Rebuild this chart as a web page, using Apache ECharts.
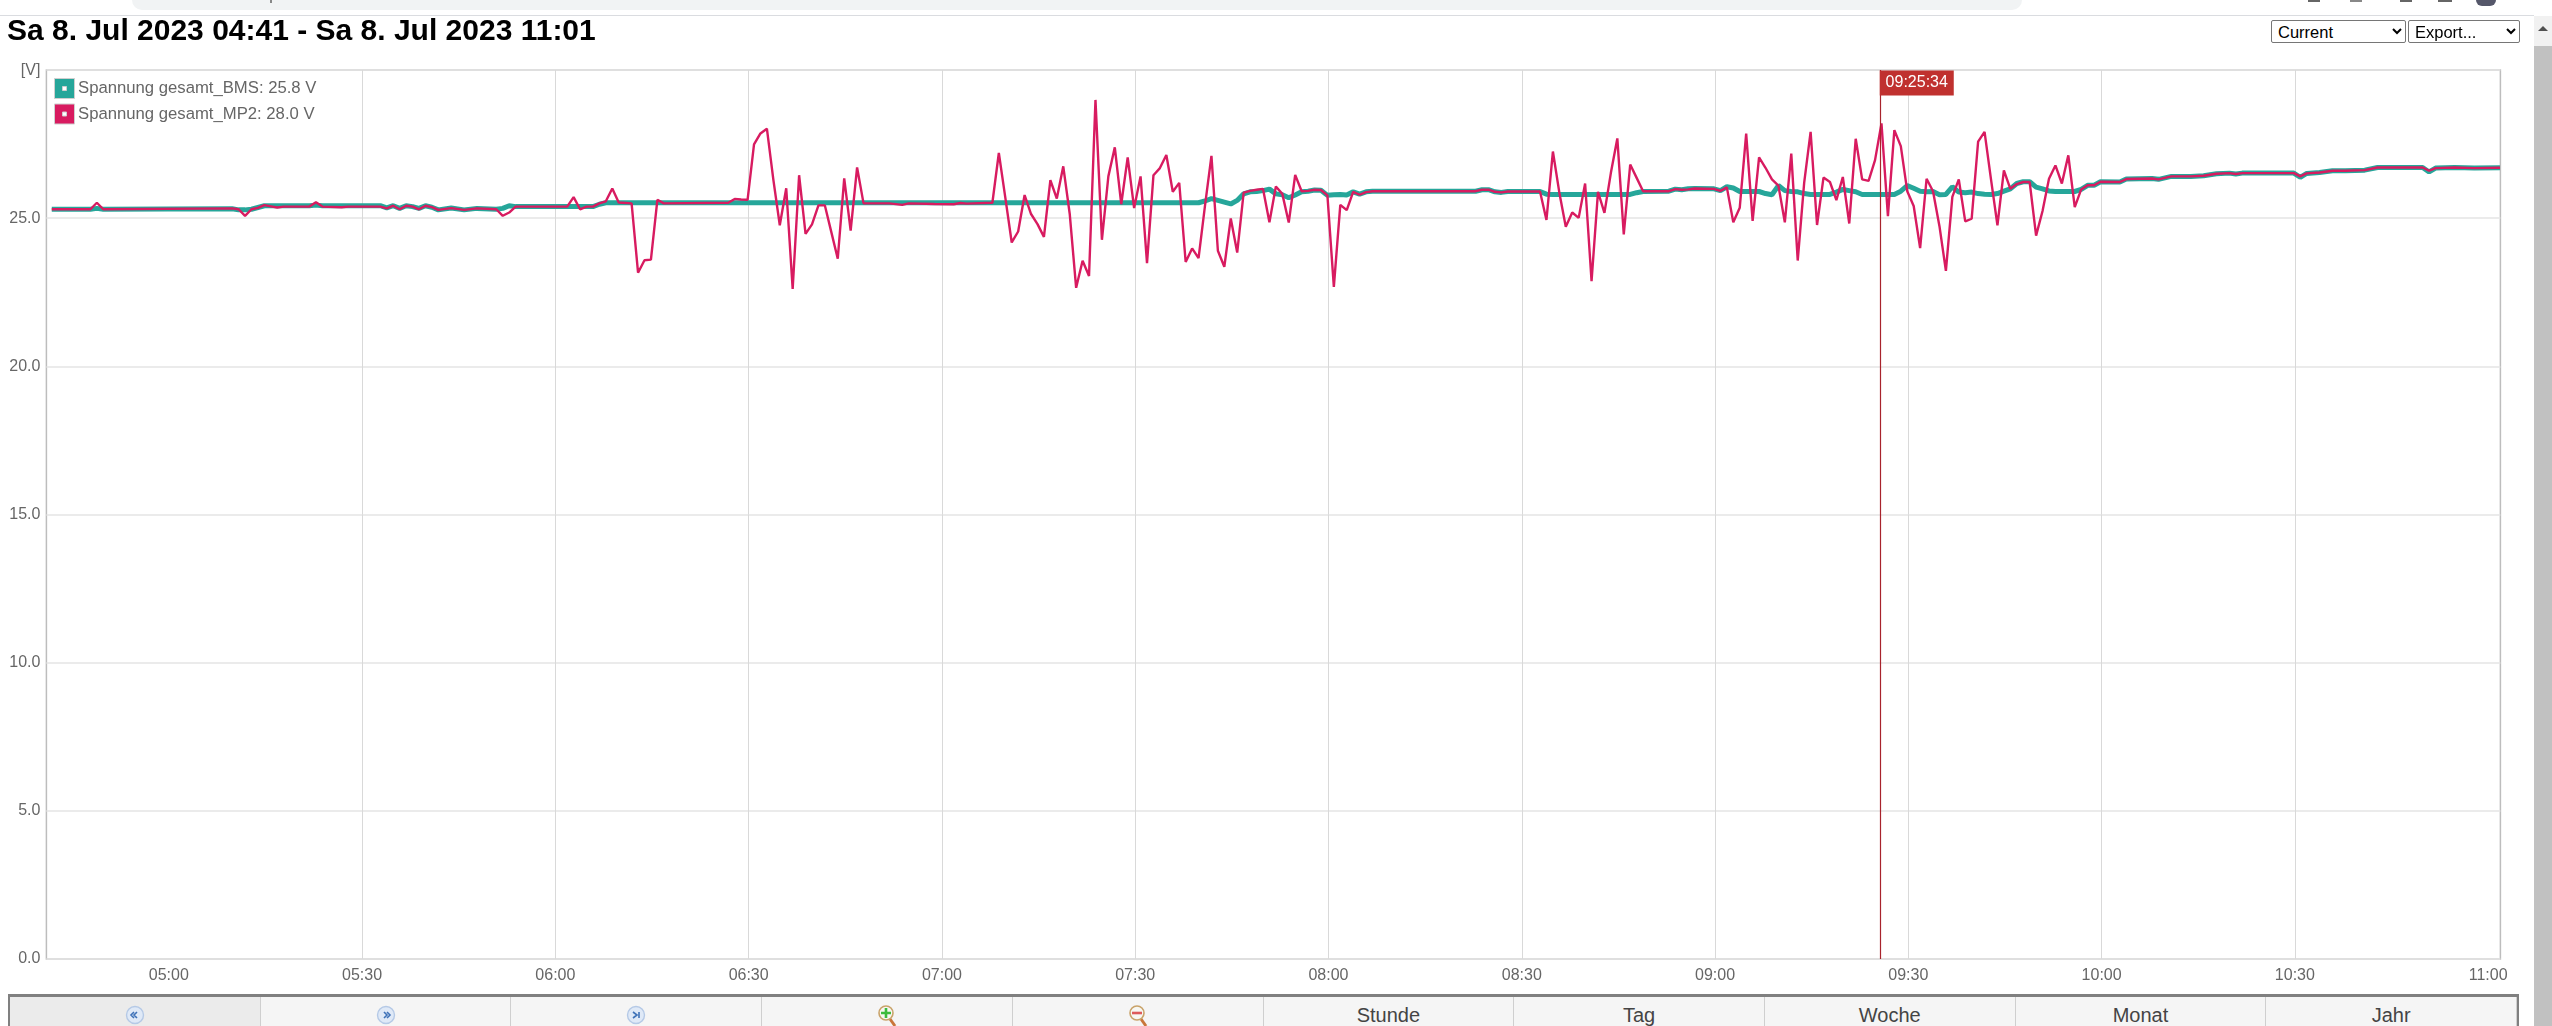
<!DOCTYPE html>
<html><head><meta charset="utf-8">
<script src="https://cdn.jsdelivr.net/npm/echarts@6/dist/echarts.min.js"></script>
<style>
html,body{margin:0;padding:0;width:2552px;height:1026px;overflow:hidden;background:#fff;font-family:"Liberation Sans",Arial,sans-serif}
#chart{position:absolute;left:0;top:0;width:2552px;height:1026px}
.abs{position:absolute}
select{position:absolute;top:20px;height:23px;font-size:16.5px;font-family:"Liberation Sans",Arial,sans-serif;background:#fff;color:#000;border:1px solid #767676;border-radius:2px;padding:0 0 0 2px;box-sizing:border-box}
#bar{position:absolute;left:8px;top:994px;width:2511px;height:40px;background:#f5f5f5;border-top:3px solid #808080;box-sizing:border-box;border-left:2px solid #808080;border-right:2px solid #808080;display:flex}
#bar div{flex:1;border-right:1px solid #cfcfcf;text-align:center;font-size:20px;color:#444;line-height:36px;padding-bottom:0;box-sizing:border-box}
#bar div:first-child{background:#ebebeb}
#bar svg{margin-top:7px}
</style></head><body>
<div id="chart"></div>
<div class="abs" style="left:0;top:15px;width:2534px;height:1px;background:#dadce0"></div>
<div class="abs" style="left:132px;top:0;width:1890px;height:10px;background:#f1f3f4;border-radius:0 0 14px 14px"></div>
<div class="abs" style="left:270px;top:0;width:2px;height:3px;background:#888"></div>
<div class="abs" style="left:2308px;top:0;width:12px;height:2px;background:#666"></div>
<div class="abs" style="left:2350px;top:0;width:12px;height:2px;background:#888"></div>
<div class="abs" style="left:2400px;top:0;width:12px;height:2px;background:#666"></div>
<div class="abs" style="left:2438px;top:0;width:14px;height:2px;background:#666"></div>
<div class="abs" style="left:2476px;top:-6px;width:20px;height:12px;background:#55576a;border-radius:10px"></div>
<div class="abs" style="left:2534px;top:16px;width:18px;height:1010px;background:#f1f1f1"></div>
<div class="abs" style="left:2534px;top:46px;width:18px;height:980px;background:#c1c1c1"></div>
<svg class="abs" style="left:2537px;top:24px" width="12" height="9"><path d="M6 2L11 7H1Z" fill="#505050"/></svg>
<select style="left:2271px;width:135px"><option>Current</option></select>
<select style="left:2408px;width:112px"><option>Export...</option></select>
<div id="bar"></div>
<script>
var titleText = 'Sa 8. Jul 2023 04:41 - Sa 8. Jul 2023 11:01';
var axisName = '[V]';
var cursorTime = '09:25:34';
var bmsName = 'Spannung gesamt_BMS';
var mp2Name = 'Spannung gesamt_MP2';
var bmsCurrent = '25.8';
var mp2Current = '28.0';
var buttonLabels = ['', '', '', '', '', 'Stunde', 'Tag', 'Woche', 'Monat', 'Jahr'];
var tickLabels = ['05:00','05:30','06:00','06:30','07:00','07:30','08:00','08:30','09:00','09:30','10:00','10:30','11:00'];

var mp2Times = [
'04:42','04:48','04:49','04:50','05:10','05:11','05:12','05:13','05:14','05:15','05:16','05:17','05:18','05:22','05:23','05:24','05:27','05:28','05:33','05:34','05:35','05:36','05:37','05:38','05:39','05:40','05:41','05:42','05:44','05:46','05:48','05:51','05:52','05:53','05:54','06:02','06:03','06:04','06:05','06:06','06:07','06:08','06:09','06:10','06:12','06:13','06:14','06:15','06:16','06:17','06:27','06:28','06:29','06:30','06:31','06:32','06:33','06:34','06:35','06:36','06:37','06:38','06:39','06:40','06:41','06:42','06:43','06:44','06:45','06:46','06:47','06:48','06:52','06:54','06:55','06:59','07:02','07:03','07:04','07:08','07:09','07:10','07:11','07:12','07:13','07:14','07:15','07:16','07:17','07:18','07:19','07:20','07:21','07:22','07:23','07:24','07:25','07:26','07:27','07:28','07:29','07:30','07:31','07:32','07:33','07:34','07:35','07:36','07:37','07:38','07:39','07:40','07:41','07:42','07:43','07:44','07:45','07:46','07:47','07:48','07:49','07:50','07:51','07:52','07:53','07:54','07:55','07:56','07:57','07:58','07:59','08:00','08:01','08:02','08:03','08:04','08:05','08:06','08:07','08:23','08:24','08:25','08:26','08:27','08:28','08:33','08:34','08:35','08:36','08:37','08:38','08:39','08:40','08:41','08:42','08:43','08:44','08:45','08:46','08:47','08:48','08:49','08:53','08:54','08:55','08:56','08:57','09:00','09:01','09:02','09:03','09:04','09:05','09:06','09:07','09:08','09:09','09:10','09:11','09:12','09:13','09:14','09:15','09:16','09:17','09:18','09:19','09:20','09:21','09:22','09:23','09:24','09:25','09:26','09:27','09:28','09:29','09:30','09:31','09:32','09:33','09:34','09:35','09:36','09:37','09:38','09:39','09:40','09:41','09:42','09:43','09:44','09:45','09:46','09:47','09:48','09:49','09:50','09:51','09:52','09:53','09:54','09:55','09:56','09:57','09:58','09:59','10:00','10:03','10:04','10:08','10:09','10:11','10:14','10:16','10:18','10:20','10:21','10:22','10:30','10:31','10:32','10:34','10:36','10:38','10:41','10:43','10:50','10:51','10:52','10:55','10:58','11:02'];
var mp2Values = [
25.3,25.3,25.52,25.3,25.33,25.3,25.08,25.3,25.35,25.44,25.4,25.36,25.39,25.39,25.54,25.39,25.37,25.39,25.39,25.33,25.42,25.3,25.42,25.39,25.3,25.42,25.37,25.28,25.34,25.28,25.33,25.3,25.08,25.19,25.39,25.39,25.71,25.3,25.39,25.39,25.5,25.57,26.0,25.53,25.5,23.16,23.58,23.6,25.62,25.5,25.52,25.65,25.63,25.62,27.49,27.86,28.02,26.3,24.76,26.01,22.61,26.45,24.47,24.79,25.43,25.43,24.53,23.63,26.34,24.58,26.71,25.5,25.5,25.45,25.5,25.48,25.47,25.51,25.49,25.52,27.2,25.7,24.18,24.55,25.78,25.14,24.8,24.37,26.28,25.66,26.75,25.15,22.65,23.56,23.05,28.99,24.27,26.41,27.39,25.47,27.05,25.34,26.41,23.48,26.45,26.69,27.13,25.89,26.19,23.52,23.98,23.65,25.42,27.1,23.9,23.36,24.99,23.84,25.86,25.92,25.96,25.99,24.86,26.07,25.82,24.85,26.46,25.91,25.92,25.96,25.95,25.77,22.68,25.45,25.27,25.89,25.79,25.88,25.91,25.91,25.96,25.96,25.89,25.87,25.9,25.9,24.94,27.25,25.86,24.71,25.19,25.01,26.17,22.87,25.89,25.18,26.53,27.69,24.45,26.81,26.36,25.91,25.91,25.98,25.96,25.97,26.0,25.99,25.92,26.04,24.86,25.35,27.85,24.91,27.05,26.7,26.31,26.1,24.86,27.18,23.57,26.19,27.91,24.77,26.37,26.22,25.61,26.39,24.82,27.68,26.31,26.26,26.96,28.2,25.07,27.97,27.43,25.91,25.41,23.99,26.33,25.91,24.73,23.22,25.72,26.31,24.89,24.98,27.58,27.91,26.31,24.76,26.61,25.99,26.15,26.22,26.22,24.41,25.24,26.33,26.78,26.17,27.12,25.37,25.97,26.11,26.11,26.23,26.22,26.32,26.34,26.31,26.41,26.41,26.43,26.5,26.52,26.49,26.52,26.52,26.41,26.51,26.54,26.6,26.6,26.62,26.71,26.71,26.6,26.69,26.71,26.69,26.7];

var bmsTimes = [
'04:42','04:48','04:49','04:50','05:10','05:11','05:12','05:13','05:15','05:16','05:22','05:23','05:24','05:33','05:34','05:35','05:36','05:37','05:38','05:39','05:40','05:41','05:42','05:44','05:46','05:48','05:51','05:52','05:53','05:54','06:06','06:07','06:08','07:40','07:41','07:42','07:43','07:44','07:45','07:46','07:47','07:48','07:49','07:50','07:51','07:52','07:53','07:54','07:55','07:56','07:57','07:58','07:59','08:00','08:01','08:02','08:03','08:04','08:05','08:06','08:07','08:23','08:24','08:25','08:26','08:27','08:28','08:33','08:34','08:35','08:47','08:48','08:49','08:53','08:54','08:55','08:56','08:57','09:00','09:01','09:02','09:03','09:04','09:07','09:08','09:09','09:10','09:11','09:12','09:13','09:14','09:15','09:18','09:19','09:20','09:21','09:22','09:23','09:28','09:29','09:30','09:31','09:32','09:33','09:34','09:35','09:36','09:37','09:38','09:39','09:40','09:41','09:42','09:43','09:44','09:45','09:46','09:47','09:48','09:49','09:50','09:51','09:52','09:53','09:56','09:57','09:58','09:59','10:00','10:03','10:04','10:08','10:09','10:11','10:14','10:16','10:18','10:20','10:21','10:22','10:30','10:31','10:32','10:34','10:36','10:38','10:41','10:43','10:50','10:51','10:52','10:55','10:58','11:02'];
var bmsValues = [
25.3,25.3,25.33,25.3,25.32,25.28,25.28,25.3,25.42,25.42,25.42,25.44,25.42,25.42,25.35,25.42,25.33,25.42,25.39,25.33,25.42,25.37,25.28,25.34,25.28,25.33,25.3,25.33,25.42,25.39,25.39,25.47,25.52,25.52,25.58,25.66,25.6,25.54,25.48,25.6,25.82,25.89,25.9,25.93,25.98,25.82,25.79,25.69,25.78,25.89,25.91,25.95,25.94,25.77,25.79,25.8,25.78,25.89,25.81,25.89,25.91,25.91,25.96,25.96,25.89,25.87,25.9,25.9,25.81,25.8,25.8,25.86,25.9,25.91,25.98,25.96,25.99,26.0,25.99,25.93,26.06,26.02,25.9,25.9,25.83,25.79,26.1,25.93,25.9,25.89,25.83,25.8,25.8,25.88,25.97,25.93,25.89,25.8,25.8,25.91,26.1,26.01,25.91,25.89,25.9,25.79,25.8,26.06,25.88,25.86,25.88,25.83,25.81,25.8,25.83,25.91,25.99,26.17,26.23,26.23,26.05,25.99,25.92,25.9,25.9,25.97,26.11,26.11,26.23,26.22,26.32,26.34,26.31,26.41,26.41,26.43,26.5,26.52,26.49,26.52,26.52,26.38,26.51,26.54,26.6,26.6,26.62,26.71,26.71,26.56,26.69,26.71,26.69,26.7];

var sampleOffsetMs = -10000;
function toMs(s){var p=s.split(':');return Date.UTC(2023,6,8,+p[0],+p[1],+(p[2]||0));}
function pairs(ts,vs){return ts.map(function(t,i){return [toMs(t)+sampleOffsetMs,vs[i]];});}
function two(n){return (n<10?'0':'')+n;}
var tickMs = tickLabels.map(toMs);

var swatch='path://M0 0H20V20H0Z M8 8V12H12V8Z';
var chart=echarts.init(document.getElementById('chart'),null,{renderer:'canvas'});
chart.setOption({
  animation:false,
  useUTC:true,
  backgroundColor:'transparent',
  textStyle:{fontFamily:'"Liberation Sans",Arial,sans-serif'},
  title:{text:titleText,left:7,top:17,padding:0,textStyle:{fontSize:30,fontWeight:'bold',color:'#000',fontFamily:'"Liberation Sans",Arial,sans-serif'}},
  legend:{
    orient:'vertical',left:52,top:77,itemWidth:21,itemHeight:20,itemGap:4.5,padding:[1,4,8,2],
    backgroundColor:'#fff',selectedMode:false,
    data:[
      {name:bmsName,icon:swatch,itemStyle:{color:'#26A69A',borderColor:'#cfcfcf',borderWidth:1}},
      {name:mp2Name,icon:swatch,itemStyle:{color:'#D81B60',borderColor:'#cfcfcf',borderWidth:1}}
    ],
    formatter:function(n){return n+': '+(n===bmsName?bmsCurrent:mp2Current)+' V';},
    textStyle:{fontSize:16.7,color:'#666',padding:[0,0,0,-2]}
  },
  grid:{left:46.4,right:51.6,top:70,bottom:67,show:true,borderColor:'#bdbdbd',borderWidth:1.5,backgroundColor:'transparent'},
  xAxis:{
    type:'value',min:toMs('04:41'),max:toMs('11:01:54'),scale:true,
    axisLine:{show:false},axisTick:{show:false,customValues:tickMs},
    splitLine:{show:true,showMinLine:false,showMaxLine:false,lineStyle:{color:'#d9d9d9',width:1}},
    axisLabel:{fontSize:16,color:'#666',margin:9,hideOverlap:false,customValues:tickMs,
      formatter:function(v){var d=new Date(v);return two(d.getUTCHours())+':'+two(d.getUTCMinutes());}}
  },
  yAxis:{
    type:'value',min:0,max:30,interval:5,name:axisName,nameLocation:'end',nameGap:-9,
    nameTextStyle:{fontSize:16,color:'#666',align:'right',padding:[0,6,0,0]},
    axisLine:{show:false},axisTick:{show:false},
    splitLine:{show:true,lineStyle:{color:'#e4e4e4',width:1.5}},
    axisLabel:{fontSize:16,color:'#666',margin:6,formatter:function(v){return v===30?'':v.toFixed(1);}}
  },
  series:[
    {name:bmsName,type:'line',data:pairs(bmsTimes,bmsValues),showSymbol:false,symbol:'none',z:3,
      lineStyle:{color:'#26A69A',width:5},itemStyle:{color:'#26A69A'}},
    {name:mp2Name,type:'line',data:pairs(mp2Times,mp2Values),showSymbol:false,symbol:'none',z:4,
      lineStyle:{color:'#D81B60',width:2.4},itemStyle:{color:'#D81B60'},
      markLine:{silent:true,symbol:'none',animation:false,label:{show:false},
        lineStyle:{color:'#a8232c',width:1.2,type:'solid'},data:[{xAxis:toMs(cursorTime)}]},
      markPoint:{silent:true,animation:false,symbol:'rect',symbolSize:[74,25],symbolOffset:[37,13],
        itemStyle:{color:'#C0312F'},
        label:{show:true,position:'inside',color:'#fff',fontSize:16,formatter:cursorTime},
        data:[{coord:[toMs(cursorTime),30]}]}
    }
  ]
});

var chev={
 l:'M12 7L9 10L12 13M9 7L6 10L9 13',
 r:'M8 7L11 10L8 13M11 7L14 10L11 13',
 e:'M7 7L11 10L7 13M13 7V13'
};
function navIcon(p){return '<svg width="20" height="22" viewBox="0 0 20 20"><circle cx="10" cy="10" r="8.5" fill="#dfe9f7" stroke="#b5c9e6" stroke-width="1.4"/><path d="'+p+'" fill="none" stroke="#3f72b8" stroke-width="1.6"/></svg>';}
function zoomIcon(c,p){return '<svg width="22" height="24" viewBox="0 0 22 24"><path d="M14 15L19 22" stroke="#c9763a" stroke-width="3"/><circle cx="10" cy="9" r="7" fill="#f7f7f2" stroke="#c9a36a" stroke-width="1.6"/><path d="'+p+'" stroke="'+c+'" stroke-width="2.6"/></svg>';}
var icons=[navIcon(chev.l),navIcon(chev.r),navIcon(chev.e),zoomIcon('#3dbb3d','M5 9H15M10 4V14'),zoomIcon('#dd5a5a','M5 9H15')];
var bar=document.getElementById('bar');
buttonLabels.forEach(function(t,i){var d=document.createElement('div');if(t)d.textContent=t;else d.innerHTML=icons[i];bar.appendChild(d);});
</script>
</body></html>
